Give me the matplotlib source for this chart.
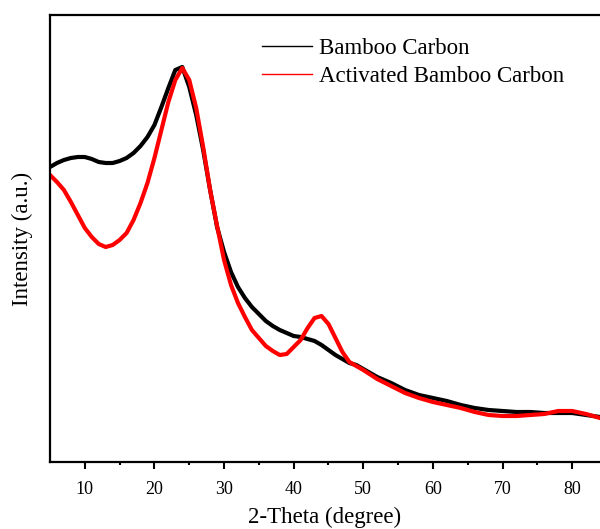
import numpy as np
import matplotlib
matplotlib.use("Agg")
import matplotlib.pyplot as plt

# XRD patterns (intensity in arbitrary units)
two_theta = [5, 6, 7, 8, 9, 10, 11, 12, 13, 14, 15, 16, 17, 18, 19, 20,
             21, 22, 23, 24, 25, 26, 27, 28, 29, 30, 31, 32, 33, 34, 35,
             36, 37, 38, 39, 40, 41, 42, 43, 44, 45, 46, 47, 48, 49, 50,
             52, 54, 56, 58, 60, 62, 64, 66, 68, 70, 72, 74, 76, 78, 80,
             82, 84]

bamboo_carbon = [295, 299, 302, 304, 305, 305, 303, 300, 299, 299, 301,
                 304, 309, 316, 325, 337, 355, 374, 392, 395, 375, 347,
                 312, 272, 235, 210, 190, 175, 164, 155, 148, 141, 136,
                 132, 129, 126, 125, 123, 121, 117, 112, 107, 103, 99,
                 97, 93, 85, 79, 72, 67, 64, 61, 57, 54, 52, 51, 50, 50,
                 49, 49, 49, 47, 45]

activated_carbon = [287, 280, 272, 260, 247, 234, 225, 218, 215, 217, 222,
                    229, 242, 259, 279, 304, 332, 360, 382, 394, 382, 354,
                    315, 272, 236, 202, 177, 159, 145, 132, 124, 116, 111,
                    107, 108, 115, 122, 134, 144, 146, 138, 124, 110, 100,
                    96, 92, 83, 76, 69, 64, 60, 57, 54, 50, 47, 46, 46, 47,
                    48, 51, 51, 48, 44]

x_ticks = [10, 20, 30, 40, 50, 60, 70, 80]

plt.rcParams['font.family'] = ['Liberation Serif', 'DejaVu Serif']

fig = plt.figure(figsize=(6.0, 5.29), dpi=100)
ax = fig.add_axes([50 / 600, 1 - 462 / 529, 550 / 600, 447 / 529])

ax.plot(two_theta, bamboo_carbon, color='black', lw=3.0,
        solid_joinstyle='round', label='Bamboo Carbon')
ax.plot(two_theta, activated_carbon, color='#ff0000', lw=3.0,
        solid_joinstyle='round', label='Activated Bamboo Carbon')

ax.set_xlim(5, 84)
ax.set_ylim(0, 447)
ax.set_xticks(x_ticks)
ax.set_xticks(np.arange(15, 85, 10), minor=True)
ax.set_yticks([])

ax.tick_params(axis='x', which='major', direction='out', length=5,
               width=1.5, pad=9, labelsize=13)
ax.tick_params(axis='x', which='minor', direction='out', length=2.5,
               width=1.5)

for side in ['left', 'bottom', 'top']:
    ax.spines[side].set_linewidth(1.6)
ax.spines['right'].set_visible(False)

ax.set_xlabel('2-Theta (degree)', fontsize=16.5, labelpad=6)
ax.set_ylabel('Intensity (a.u.)', fontsize=16.5, labelpad=12)

leg = ax.legend(loc='upper left', bbox_to_anchor=(262 / 600, 1 - 38 / 529),
                bbox_transform=fig.transFigure, frameon=False, fontsize=16.5,
                borderpad=0, borderaxespad=0, handlelength=2.2,
                handletextpad=0.3, labelspacing=0.3)
for line in leg.get_lines():
    line.set_linewidth(1.0)

fig.savefig('out.png', dpi=100, facecolor='white')
